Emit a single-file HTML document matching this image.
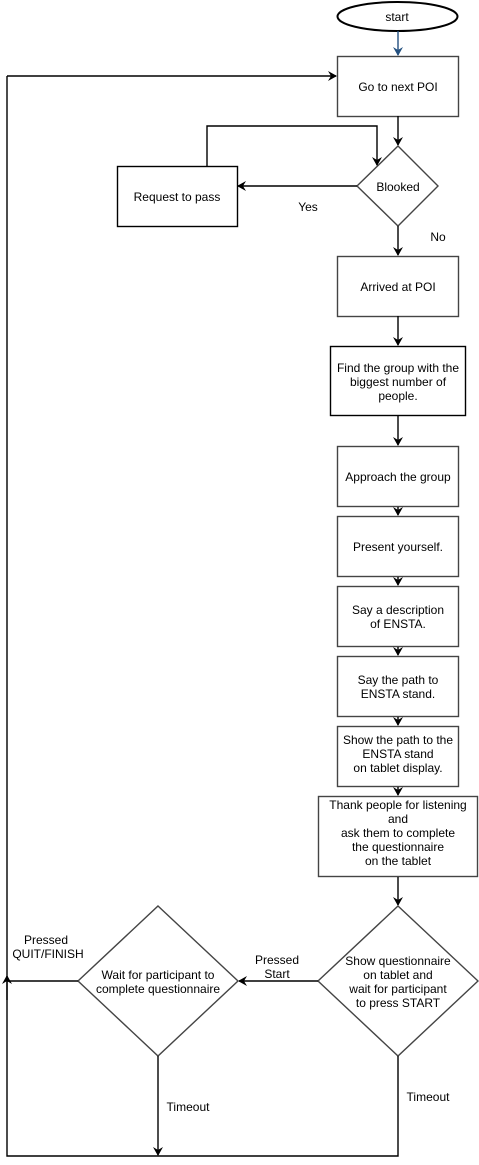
<!DOCTYPE html>
<html><head><meta charset="utf-8"><style>
html,body{margin:0;padding:0;background:#fff;}
svg{display:block;}
text{font-family:"Liberation Sans",Arial,sans-serif;font-size:12px;fill:#000;}
</style></head><body>
<svg width="479" height="1165" viewBox="0 0 479 1165" xmlns="http://www.w3.org/2000/svg">
<defs>
<marker id="a" markerWidth="10" markerHeight="10" refX="8" refY="5" orient="auto" markerUnits="userSpaceOnUse"><path d="M0,0 L9,5 L0,10 L3,5 Z" fill="#000"/></marker>
<marker id="b" markerWidth="10" markerHeight="10" refX="8" refY="5" orient="auto" markerUnits="userSpaceOnUse"><path d="M0,0 L9,5 L0,10 L3,5 Z" fill="#23507f"/></marker>
</defs>
<g fill="none" stroke="#000" stroke-width="1.4">
<ellipse cx="397.5" cy="16.5" rx="60" ry="14.5" stroke-width="2"/>
<line x1="398" y1="31" x2="398" y2="55" stroke="#23507f" marker-end="url(#b)"/>
<rect x="337.5" y="56.5" width="121" height="60" stroke="#444"/>
<line x1="7" y1="76" x2="336" y2="76" marker-end="url(#a)"/>
<line x1="398" y1="116" x2="398" y2="145" marker-end="url(#a)"/>
<polygon points="398,146 438,186 398,226 357,186" stroke="#444"/>
<line x1="357" y1="186" x2="238" y2="186" marker-end="url(#a)"/>
<rect x="117.5" y="166.5" width="120" height="60"/>
<polyline points="207,166 207,126 377,126 377,165" marker-end="url(#a)"/>
<line x1="398" y1="226" x2="398" y2="255" marker-end="url(#a)"/>
<rect x="337.5" y="256.5" width="121" height="60" stroke="#444"/>
<line x1="398" y1="316" x2="398" y2="345" marker-end="url(#a)"/>
<rect x="330.5" y="346.5" width="135" height="69"/>
<line x1="398" y1="416" x2="398" y2="445" marker-end="url(#a)"/>
<rect x="337.5" y="446.5" width="121" height="60" stroke="#444"/>
<line x1="398" y1="507" x2="398" y2="515" marker-end="url(#a)"/>
<rect x="337.5" y="516.5" width="121" height="60" stroke="#444"/>
<line x1="398" y1="577" x2="398" y2="585" marker-end="url(#a)"/>
<rect x="337.5" y="586.5" width="121" height="60" stroke="#444"/>
<line x1="398" y1="647" x2="398" y2="655" marker-end="url(#a)"/>
<rect x="337.5" y="656.5" width="121" height="60" stroke="#444"/>
<line x1="398" y1="717" x2="398" y2="725" marker-end="url(#a)"/>
<rect x="337.5" y="726.5" width="121" height="60" stroke="#444"/>
<line x1="398" y1="787" x2="398" y2="795" marker-end="url(#a)"/>
<rect x="318.5" y="796.5" width="159" height="80" stroke="#444"/>
<line x1="398" y1="877" x2="398" y2="905" marker-end="url(#a)"/>
<polygon points="398,906 478,981 398,1056 318,981" stroke="#444"/>
<line x1="318" y1="981" x2="239" y2="981" marker-end="url(#a)"/>
<polygon points="158,906 238,981 158,1056 78,981" stroke="#444"/>
<polyline points="78,981 7,981"/>
<polyline points="398,1056 398,1156 7,1156 7,76"/>
<line x1="7" y1="1000" x2="7" y2="976" marker-end="url(#a)"/>
<line x1="158" y1="1056" x2="158" y2="1155" marker-end="url(#a)"/>
</g>
<g text-anchor="middle">
<text x="397" y="21">start</text>
<text x="398" y="91">Go to next POI</text>
<text x="398" y="191">Blooked</text>
<text x="177" y="201">Request to pass</text>
<text x="308" y="211">Yes</text>
<text x="438" y="241">No</text>
<text x="398" y="291">Arrived at POI</text>
<text x="398" y="372">Find the group with  the</text>
<text x="398" y="386">biggest number of</text>
<text x="398" y="400">people.</text>
<text x="398" y="481">Approach the group</text>
<text x="398" y="551">Present yourself.</text>
<text x="398" y="614">Say a description</text>
<text x="398" y="628">of ENSTA.</text>
<text x="398" y="684">Say the path to</text>
<text x="398" y="698">ENSTA stand.</text>
<text x="398" y="744">Show the path to the</text>
<text x="398" y="758">ENSTA stand</text>
<text x="398" y="772">on tablet display.</text>
<text x="398" y="809">Thank people for listening</text>
<text x="398" y="823">and</text>
<text x="398" y="837">ask them to complete</text>
<text x="398" y="851">the questionnaire</text>
<text x="398" y="865">on  the tablet</text>
<text x="398" y="965">Show questionnaire</text>
<text x="398" y="979">on tablet and</text>
<text x="398" y="993">wait for participant</text>
<text x="398" y="1007">to press START</text>
<text x="277" y="964">Pressed</text>
<text x="277" y="978">Start</text>
<text x="158" y="979">Wait for participant to</text>
<text x="158" y="993">complete questionnaire</text>
<text x="46" y="944">Pressed</text>
<text x="48" y="958">QUIT/FINISH</text>
<text x="188" y="1111">Timeout</text>
<text x="428" y="1101">Timeout</text>
</g>
</svg>
</body></html>
